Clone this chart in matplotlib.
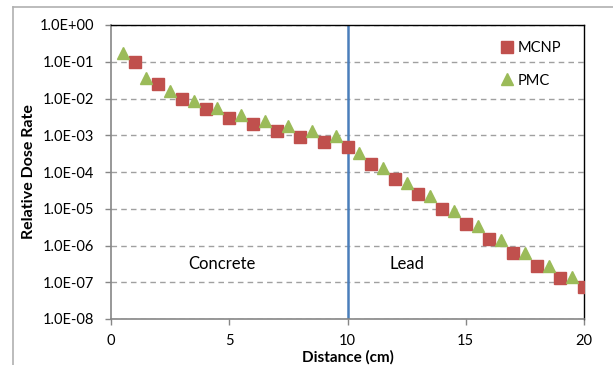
import matplotlib
matplotlib.use("Agg")
import matplotlib.pyplot as plt
from matplotlib.lines import Line2D
from matplotlib.ticker import FixedLocator, FuncFormatter, NullLocator

plt.rcParams['font.family'] = ['Lato', 'DejaVu Sans']

# Data
mcnp_x = [1, 2, 3, 4, 5, 6, 7, 8, 9, 10, 11, 12, 13, 14, 15, 16, 17, 18, 19, 20]
mcnp_y = [0.098, 0.0245, 0.0098, 0.0052, 0.0030, 0.0020, 0.0013, 0.00090, 0.00064, 0.00047,
          1.65e-4, 6.3e-5, 2.46e-5, 9.7e-6, 3.86e-6, 1.5e-6, 6.3e-7, 2.77e-7, 1.28e-7, 7.3e-8]
pmc_x = [0.5, 1.5, 2.5, 3.5, 4.5, 5.5, 6.5, 7.5, 8.5, 9.5, 10.5, 11.5, 12.5, 13.5, 14.5,
         15.5, 16.5, 17.5, 18.5, 19.5]
pmc_y = [0.17, 0.036, 0.016, 0.0087, 0.0056, 0.0036, 0.0025, 0.0018, 0.0013, 0.00098,
         0.00032, 1.26e-4, 4.9e-5, 2.28e-5, 8.9e-6, 3.45e-6, 1.44e-6, 6.4e-7, 2.7e-7, 1.36e-7]
x_ticks = [0, 5, 10, 15, 20]
y_ticks = [1e0, 1e-1, 1e-2, 1e-3, 1e-4, 1e-5, 1e-6, 1e-7, 1e-8]
boundary_x = 10
region_labels = ["Concrete", "Lead"]
region_label_x = [4.7, 12.5]
region_label_y = 1.0e-6 * 10 ** (-0.5)

W, H = 613, 365
fig = plt.figure(figsize=(W / 100, H / 100), dpi=100)
ax = fig.add_axes([111 / W, 1 - 319 / H, (584 - 111) / W, (319 - 25) / H])

ax.set_yscale('log')
ax.set_xlim(0, 20)
ax.set_ylim(1e-8, 1e0)

for yt in y_ticks:
    ax.axhline(yt, color='#A0A0A0', lw=1.0, ls=(0, (4, 3)), zorder=1)

ax.axvline(boundary_x, color='#4A7EBB', lw=1.8, zorder=2)

ax.plot(mcnp_x, mcnp_y, ls='none', marker='s', ms=8.5, color='#C0504D',
        markeredgecolor='#C0504D', label='MCNP', zorder=3)
ax.plot(pmc_x, pmc_y, ls='none', marker='^', ms=9, color='#9BBB59',
        markeredgecolor='#9BBB59', label='PMC', zorder=3)

ax.yaxis.set_major_locator(FixedLocator(y_ticks))
ax.yaxis.set_minor_locator(NullLocator())
ax.yaxis.set_major_formatter(FuncFormatter(lambda v, p: f"{v:.1E}"))
ax.set_xticks(x_ticks)

ax.tick_params(axis='both', direction='out', length=4, width=1, color='#868686',
               labelsize=10.5, labelcolor='black')
ax.tick_params(axis='y', pad=8)
ax.tick_params(axis='x', pad=7)

for side in ['left', 'bottom']:
    ax.spines[side].set_color('#868686')
    ax.spines[side].set_linewidth(1.2)
for side in ['top', 'right']:
    ax.spines[side].set_color('black')
    ax.spines[side].set_linewidth(1.0)

for lab, lx in zip(region_labels, region_label_x):
    ax.text(lx, region_label_y, lab, ha='center', va='center', fontsize=12)

ax.set_xlabel('Distance (cm)', fontsize=11, fontweight='bold', labelpad=1)
ax.set_ylabel('Relative Dose Rate', fontsize=11.5, fontweight='bold', labelpad=3)

leg = ax.legend(loc='upper left', bbox_to_anchor=(494 / W, 1 - 34 / H),
                bbox_transform=fig.transFigure, frameon=False, fontsize=10.5,
                handlelength=0.8, handletextpad=0.3, labelspacing=1.25, borderpad=0)

# outer chart border
fig.add_artist(Line2D([13 / W, 1], [1 - 7 / H, 1 - 7 / H], transform=fig.transFigure,
                      color='#B0B0B0', lw=1.2))
fig.add_artist(Line2D([13 / W, 13 / W], [0, 1 - 7 / H], transform=fig.transFigure,
                      color='#B0B0B0', lw=1.2))

fig.savefig('out.png', dpi=100)
